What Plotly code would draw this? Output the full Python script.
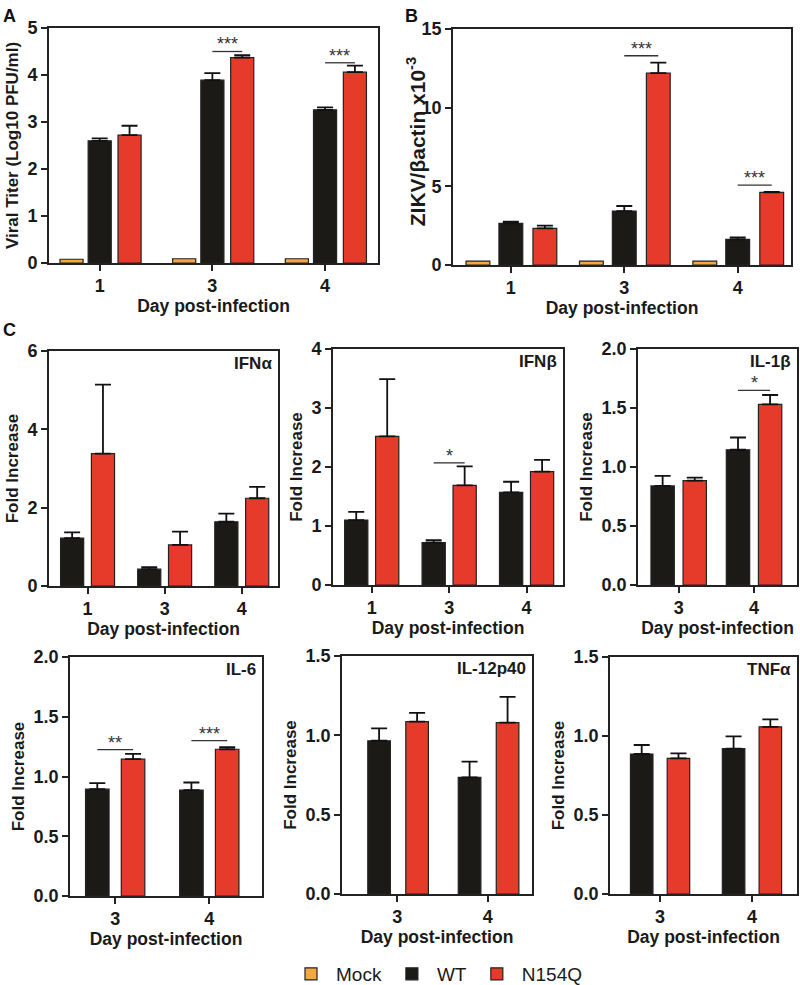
import plotly.graph_objects as go

# ---- data ----
days_ABC = ['1', '3', '4']
days_late = ['3', '4']

# A: viral titer (Log10 PFU/ml)
titer_mock = [0.08, 0.09, 0.09]
titer_wt = [2.60, 3.89, 3.26]
titer_wt_err = [0.05, 0.15, 0.05]
titer_n154q = [2.72, 4.37, 4.06]
titer_n154q_err = [0.20, 0.05, 0.14]

# B: ZIKV / beta-actin x10^-3
zikv_mock = [0.25, 0.25, 0.25]
zikv_wt = [2.65, 3.43, 1.63]
zikv_wt_err = [0.10, 0.32, 0.13]
zikv_n154q = [2.33, 12.19, 4.62]
zikv_n154q_err = [0.17, 0.67, 0.03]

# C: cytokines, fold increase
ifna_wt = [1.22, 0.43, 1.64]
ifna_wt_err = [0.15, 0.05, 0.21]
ifna_n154q = [3.38, 1.05, 2.24]
ifna_n154q_err = [1.76, 0.34, 0.29]

ifnb_wt = [1.10, 0.72, 1.57]
ifnb_wt_err = [0.14, 0.04, 0.18]
ifnb_n154q = [2.52, 1.69, 1.92]
ifnb_n154q_err = [0.97, 0.32, 0.20]

il1b_wt = [0.84, 1.146]
il1b_wt_err = [0.085, 0.104]
il1b_n154q = [0.885, 1.53]
il1b_n154q_err = [0.025, 0.08]

il6_wt = [0.894, 0.886]
il6_wt_err = [0.05, 0.064]
il6_n154q = [1.145, 1.228]
il6_n154q_err = [0.045, 0.017]

il12_wt = [0.966, 0.735]
il12_wt_err = [0.078, 0.099]
il12_n154q = [1.086, 1.08]
il12_n154q_err = [0.056, 0.163]

tnfa_wt = [0.886, 0.92]
tnfa_wt_err = [0.057, 0.078]
tnfa_n154q = [0.858, 1.058]
tnfa_n154q_err = [0.032, 0.047]

# significance: (day index, bracket height, label)
sig_titer = [(1, 4.50, '***'), (2, 4.26, '***')]
sig_zikv = [(1, 13.3, '***'), (2, 5.08, '***')]
sig_ifnb = [(1, 2.07, '*')]
sig_il1b = [(1, 1.65, '*')]
sig_il6 = [(0, 1.225, '**'), (1, 1.30, '***')]

# ---- style ----
W, H = 800, 985
MOCK_C = '#F5A742'
WT_C = '#1c1a17'
N_C = '#E63B2A'
FONT = 'Liberation Sans, Arial, sans-serif'

panels = [
    dict(days=days_ABC, mock=titer_mock,
         wt=(titer_wt, titer_wt_err), n=(titer_n154q, titer_n154q_err),
         sig=sig_titer, box=(49, 378, 28, 263), xr=[-0.45, 2.47], yr=[0, 5],
         dtick=1, fmt='d', ytitle='Viral Titer (Log10 PFU/ml)', ysize=17, tag=None,
         bw=0.205, cen=(-0.25, 0.0, 0.265)),
    dict(days=days_ABC, mock=zikv_mock,
         wt=(zikv_wt, zikv_wt_err), n=(zikv_n154q, zikv_n154q_err),
         sig=sig_zikv, box=(453, 791, 29, 265), xr=[-0.51, 2.47], yr=[0, 15],
         dtick=5, fmt='d', ytitle=None, ysize=21, tag=None,
         bw=0.21, cen=(-0.29, 0.0, 0.30)),
    dict(days=days_ABC, mock=None,
         wt=(ifna_wt, ifna_wt_err), n=(ifna_n154q, ifna_n154q_err),
         sig=[], box=(49, 278, 351, 586), xr=[-0.5, 2.47], yr=[0, 6],
         dtick=2, fmt='d', ytitle='Fold Increase', ysize=17, tag='IFNα',
         bw=0.30, cen=(None, -0.2, 0.2)),
    dict(days=days_ABC, mock=None,
         wt=(ifnb_wt, ifnb_wt_err), n=(ifnb_n154q, ifnb_n154q_err),
         sig=sig_ifnb, box=(333, 563, 349, 585), xr=[-0.5, 2.47], yr=[0, 4],
         dtick=1, fmt='d', ytitle='Fold Increase', ysize=17, tag='IFNβ',
         bw=0.30, cen=(None, -0.2, 0.2)),
    dict(days=days_late, mock=None,
         wt=(il1b_wt, il1b_wt_err), n=(il1b_n154q, il1b_n154q_err),
         sig=sig_il1b, box=(638, 797, 349, 585), xr=[-0.54, 1.57], yr=[0, 2],
         dtick=0.5, fmt='.1f', ytitle='Fold Increase', ysize=17, tag='IL-1β',
         bw=0.31, cen=(None, -0.213, 0.213)),
    dict(days=days_late, mock=None,
         wt=(il6_wt, il6_wt_err), n=(il6_n154q, il6_n154q_err),
         sig=sig_il6, box=(70, 262, 657, 896), xr=[-0.48, 1.56], yr=[0, 2],
         dtick=0.5, fmt='.1f', ytitle='Fold Increase', ysize=17, tag='IL-6',
         bw=0.25, cen=(None, -0.19, 0.19)),
    dict(days=days_late, mock=None,
         wt=(il12_wt, il12_wt_err), n=(il12_n154q, il12_n154q_err),
         sig=[], box=(342, 532, 656, 894), xr=[-0.61, 1.49], yr=[0, 1.5],
         dtick=0.5, fmt='.1f', ytitle='Fold Increase', ysize=17, tag='IL-12p40',
         bw=0.25, cen=(None, -0.2, 0.22)),
    dict(days=days_late, mock=None,
         wt=(tnfa_wt, tnfa_wt_err), n=(tnfa_n154q, tnfa_n154q_err),
         sig=[], box=(610, 797, 657, 894), xr=[-0.545, 1.49], yr=[0, 1.5],
         dtick=0.5, fmt='.1f', ytitle='Fold Increase', ysize=17, tag='TNFα',
         bw=0.245, cen=(None, -0.2, 0.2)),
]

fig = go.Figure()
shapes = []
annotations = []


def bar(x, y, err, color, name, xa, ya, bw, c, legend):
    kw = {}
    if err is not None:
        kw['error_y'] = dict(type='data', symmetric=False, array=err,
                             arrayminus=[0] * len(err), color='#111',
                             thickness=1.8, width=8)
    return go.Bar(x=x, y=y, name=name, marker=dict(color=color, line=dict(color='#222', width=1.2)),
                  width=bw, offset=c - bw / 2, xaxis=xa, yaxis=ya,
                  showlegend=legend, **kw)


for i, p in enumerate(panels):
    k = '' if i == 0 else str(i + 1)
    xa, ya = 'x' + k, 'y' + k
    xpos = list(range(len(p['days'])))
    first = i == 0
    if p['mock'] is not None:
        fig.add_trace(bar(xpos, p['mock'], None, MOCK_C, 'Mock', xa, ya, p['bw'], p['cen'][0], first))
    fig.add_trace(bar(xpos, p['wt'][0], p['wt'][1], WT_C, 'WT', xa, ya, p['bw'], p['cen'][1], first))
    fig.add_trace(bar(xpos, p['n'][0], p['n'][1], N_C, 'N154Q', xa, ya, p['bw'], p['cen'][2], first))

    l, r, t, b = p['box']
    axis_common = dict(showline=True, mirror=True, linecolor='#222', linewidth=1.6,
                       showgrid=False, zeroline=False, ticks='outside', ticklen=6,
                       tickwidth=1.6, tickcolor='#222', automargin=False,
                       tickfont=dict(family=FONT, size=18, color='#1a1a1a', weight='bold'))
    ytitle = None
    if p['ytitle']:
        ytitle = dict(text=p['ytitle'], standoff=5,
                      font=dict(family=FONT, size=p['ysize'], color='#1a1a1a', weight='bold'))
    fig.update_layout({
        'xaxis' + k: dict(domain=[l / W, r / W], range=p['xr'], tickvals=xpos,
                          ticktext=p['days'], anchor=ya,
                          title=dict(text='Day post-infection', standoff=2,
                                     font=dict(family=FONT, size=17.5, color='#1a1a1a', weight='bold')),
                          **axis_common),
        'yaxis' + k: dict(domain=[1 - b / H, 1 - t / H], range=p['yr'], dtick=p['dtick'],
                          tickformat=p['fmt'], anchor=xa, title=ytitle,
                          **axis_common),
    })

    for di, yb, lab in p['sig']:
        x0 = di + p['cen'][1]
        x1 = di + p['cen'][2]
        shapes.append(dict(type='line', xref=xa, yref=ya, x0=x0, x1=x1, y0=yb, y1=yb,
                           line=dict(color='#333', width=1.3)))
        annotations.append(dict(xref=xa, yref=ya, x=(x0 + x1) / 2, y=yb, text=lab,
                                showarrow=False, yanchor='bottom', yshift=-5,
                                font=dict(family=FONT, size=18, color='#333')))
    if p['tag']:
        annotations.append(dict(xref=xa + ' domain', yref=ya + ' domain', x=1 - 4 / (r - l),
                                y=1 - 1 / (b - t), text=p['tag'], showarrow=False,
                                xanchor='right', yanchor='top',
                                font=dict(family=FONT, size=17, color='#1a1a1a', weight='bold')))

# panel B y title sits close to its tick labels
annotations.append(dict(xref='paper', yref='y2 domain', x=416 / W, y=0.52,
                        text='ZIKV/βactin x10<sup>-3</sup>', textangle=-90, showarrow=False,
                        xanchor='center', yanchor='middle',
                        font=dict(family=FONT, size=21, color='#1a1a1a', weight='bold')))

for lab, x, y in [('A', 9, 16), ('B', 411, 16), ('C', 9, 330)]:
    annotations.append(dict(xref='paper', yref='paper', x=x / W, y=1 - y / H, text=lab,
                            showarrow=False, xanchor='center', yanchor='middle',
                            font=dict(family=FONT, size=18, color='#111', weight='bold')))

fig.update_layout(
    width=W, height=H,
    margin=dict(l=0, r=0, t=0, b=0, autoexpand=False),
    paper_bgcolor='white', plot_bgcolor='white',
    shapes=shapes, annotations=annotations,
    legend=dict(orientation='h', x=437 / W, xanchor='center', y=1 - 974 / H, yanchor='middle',
                font=dict(family=FONT, size=19, color='#1a1a1a'), itemwidth=40,
                traceorder='normal'),
)

# body margin off so the 800x985 figure fills the window exactly
fig.write_html("out.html", config={'displayModeBar': False},
               post_script="document.body.style.margin='0';")
